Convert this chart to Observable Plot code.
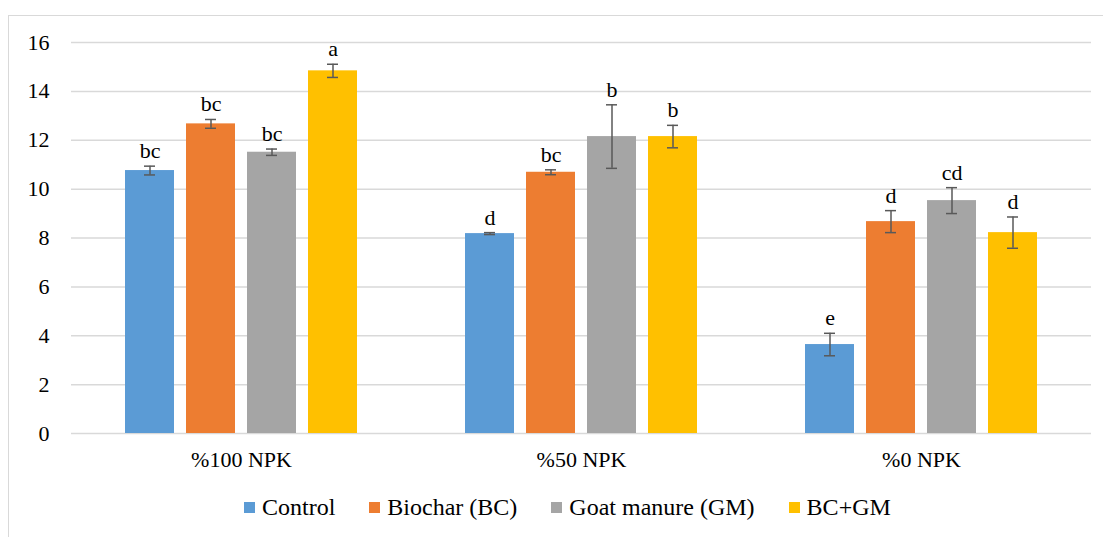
<!DOCTYPE html>
<html>
<head>
<meta charset="utf-8">
<script src="https://cdn.jsdelivr.net/npm/d3@7"></script>
<script src="https://cdn.jsdelivr.net/npm/@observablehq/plot@0.6"></script>
<style>
  html, body { margin: 0; padding: 0; background: #fff; }
  #wrap { position: relative; width: 1103px; height: 537px; overflow: hidden; font-family: "Liberation Serif", "Times New Roman", serif; }
  #border { position: absolute; left: 8px; top: 15px; width: 1200px; height: 700px; border: 1.5px solid #d9d9d9; box-sizing: border-box; }
  #chart { position: absolute; left: 0; top: 0; }
  #chart svg text { font-family: "Liberation Serif", "Times New Roman", serif; }
  #legend { position: absolute; left: 244px; top: 492px; height: 30px; display: flex; align-items: center; font-size: 24px; color: #000; white-space: nowrap; }
  .item { display: flex; align-items: center; margin-right: 34px; }
  .sw { width: 11px; height: 11px; margin-right: 7px; }
</style>
</head>
<body>
<div id="wrap">
  <div id="border"></div>
  <div id="chart"></div>
  <div id="legend"></div>
</div>
<script>
const groups = ["%100 NPK", "%50 NPK", "%0 NPK"];
const series = ["Control", "Biochar (BC)", "Goat manure (GM)", "BC+GM"];
const colors = ["#5B9BD5", "#ED7D31", "#A5A5A5", "#FFC000"];

const controlMeans = [10.76, 8.18, 3.64];
const biocharMeans = [12.67, 10.69, 8.67];
const goatMeans    = [11.51, 12.15, 9.53];
const bcgmMeans    = [14.84, 12.15, 8.22];

const controlErr = [0.18, 0.04, 0.46];
const biocharErr = [0.18, 0.10, 0.45];
const goatErr    = [0.13, 1.30, 0.53];
const bcgmErr    = [0.27, 0.46, 0.64];

const controlLetters = ["bc", "d", "e"];
const biocharLetters = ["bc", "bc", "d"];
const goatLetters    = ["bc", "b", "cd"];
const bcgmLetters    = ["a", "b", "d"];

const yTicks = [0, 2, 4, 6, 8, 10, 12, 14, 16];

const meansBySeries = [controlMeans, biocharMeans, goatMeans, bcgmMeans];
const errBySeries = [controlErr, biocharErr, goatErr, bcgmErr];
const lettersBySeries = [controlLetters, biocharLetters, goatLetters, bcgmLetters];

const data = [];
groups.forEach((g, gi) => {
  series.forEach((s, si) => {
    data.push({
      group: g,
      series: s,
      mean: meansBySeries[si][gi],
      err: errBySeries[si][gi],
      letter: lettersBySeries[si][gi]
    });
  });
});

const font = '"Liberation Serif", "Times New Roman", serif';

const chart = Plot.plot({
  width: 1103,
  height: 480,
  marginLeft: 70,
  marginRight: 11,
  marginTop: 42,
  marginBottom: 47,
  style: { fontFamily: font, fontSize: "22px", color: "#000", background: "transparent" },
  fx: { domain: groups, padding: 0, label: null },
  x: { domain: series, paddingInner: 0.2, paddingOuter: 0.86, axis: null, label: null },
  y: { domain: [0, 16] },
  color: { domain: series, range: colors },
  marks: [
    Plot.gridY(yTicks, { stroke: "#d9d9d9", strokeOpacity: 1, strokeWidth: 1.5 }),
    Plot.axisY(yTicks, { tickSize: 0, tickPadding: 22, label: null, fontSize: 22, fill: "#000" }),
    Plot.axisFx({ anchor: "bottom", tickSize: 0, tickPadding: 18, label: null, fontSize: 22, fill: "#000" }),
    Plot.barY(data, { fx: "group", x: "series", y: "mean", fill: "series" }),
    Plot.ruleX(data, { fx: "group", x: "series", y1: d => d.mean - d.err, y2: d => d.mean + d.err, stroke: "#595959", strokeWidth: 1.5 }),
    Plot.tickY(data, { fx: "group", x: "series", y: d => d.mean - d.err, stroke: "#595959", strokeWidth: 1.5, inset: 19 }),
    Plot.tickY(data, { fx: "group", x: "series", y: d => d.mean + d.err, stroke: "#595959", strokeWidth: 1.5, inset: 19 }),
    Plot.text(data, { fx: "group", x: "series", y: d => d.mean + d.err, text: "letter", lineAnchor: "bottom", dy: -8, fontSize: 22, fill: "#000" })
  ]
});
document.getElementById("chart").appendChild(chart);

const legend = document.getElementById("legend");
series.forEach((s, i) => {
  const item = document.createElement("div");
  item.className = "item";
  const sw = document.createElement("div");
  sw.className = "sw";
  sw.style.background = colors[i];
  const t = document.createElement("span");
  t.textContent = s;
  item.appendChild(sw);
  item.appendChild(t);
  legend.appendChild(item);
});
</script>
</body>
</html>
